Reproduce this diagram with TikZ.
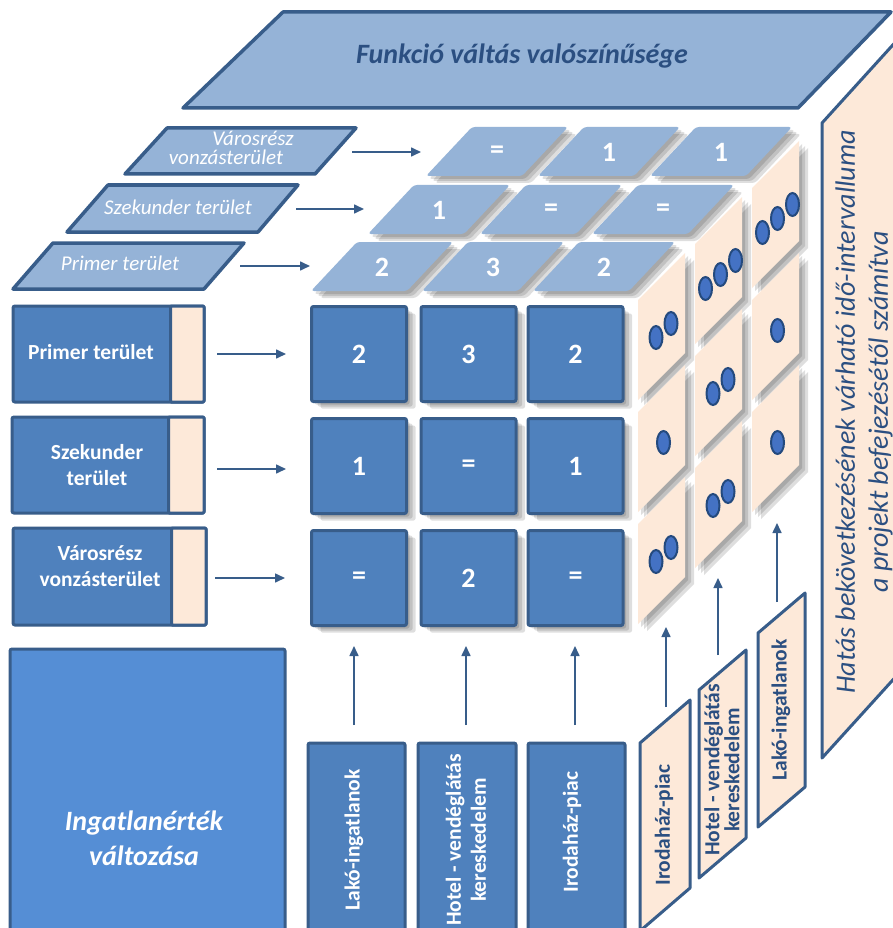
\documentclass[tikz,border=0pt]{standalone}
\usepackage{fontspec}
\setmainfont{Carlito}
\usetikzlibrary{arrows.meta}
\definecolor{topblue}{HTML}{95B3D7}
\definecolor{edgeblue}{HTML}{385D8A}
\definecolor{boxblue}{HTML}{4F81BD}
\definecolor{bigblue}{HTML}{558ED5}
\definecolor{peach}{HTML}{FDE9D9}
\definecolor{txtblue}{HTML}{2B4F81}
\definecolor{dotfill}{HTML}{4472C4}
\definecolor{dotedge}{HTML}{244A7E}
\tikzset{
  shadowed/.style={
    preaction={draw=none,fill=black,opacity=.13,transform canvas={shift={(3pt,-3pt)}}},
    preaction={draw=none,fill=black,opacity=.13,transform canvas={shift={(6pt,-5pt)}}},
    preaction={draw=none,fill=black,opacity=.13,transform canvas={shift={(9pt,-7pt)}}}},
  arr/.style={draw=edgeblue,line width=1.6pt,-{Triangle[length=10pt,width=9pt]}},
  banner/.style={fill=topblue,draw=edgeblue,line width=3.5pt,line join=round},
  lpar/.style={fill=topblue,draw=edgeblue,line width=3.5pt,line join=round},
  rpar/.style={fill=peach,draw=edgeblue,line width=3pt,line join=round},
  boxs/.style={fill=boxblue,draw=edgeblue,line width=3pt,rounded corners=2pt},
  strip/.style={fill=peach,draw=edgeblue,line width=3pt,rounded corners=1pt},
  bigbox/.style={fill=bigblue,draw=edgeblue,line width=3pt,rounded corners=2pt},
  sq/.style={shadowed,draw=edgeblue,line width=3pt,fill=boxblue,rounded corners=2pt,
    minimum width=95pt,minimum height=95pt,inner sep=0pt,text=white,
    font=\bfseries\fontsize{28}{30}\selectfont},
  celltxt/.style={text=white,inner sep=0pt,font=\bfseries\fontsize{28}{30}\selectfont},
  bannertxt/.style={text=txtblue,inner sep=0pt,font=\bfseries\itshape\fontsize{28}{32}\selectfont},
  bigtxt/.style={text=txtblue,inner sep=0pt,align=center,font=\itshape\fontsize{28}{33}\selectfont},
  ltxt/.style={text=white,inner sep=0pt,align=center,font=\itshape\fontsize{21}{19}\selectfont},
  lab/.style={text=white,inner sep=0pt,align=center,font=\bfseries\fontsize{21.5}{26}\selectfont},
  ingtxt/.style={text=white,inner sep=0pt,align=center,font=\bfseries\itshape\fontsize{28}{35}\selectfont},
  blab/.style={text=white,inner sep=0pt,align=center,font=\bfseries\fontsize{21.5}{25}\selectfont},
  slab/.style={text=txtblue,inner sep=0pt,align=center,font=\bfseries\fontsize{21.5}{20}\selectfont},
  dot/.style={fill=dotfill,draw=dotedge,line width=2pt}
}
\newcommand\topcell[4]{% name, bottom-left x, top y, text
  \fill[topblue,shadowed,rounded corners=3pt] ({#2},{#3+49}) -- ({#2+46},{#3}) -- ({#2+142},{#3}) -- ({#2+96},{#3+49}) -- cycle;
  \node[celltxt] (#1) at ({#2+71},{#3+25}) {#4};}
\newcommand\rpanel[4]{% name, column, row, dots
  \pgfmathsetmacro\panx{638+57*#2}%
  \pgfmathsetmacro\pany{300-56*#2+112*#3}%
  \fill[peach,shadowed] (\panx,\pany) -- ++(47,-47) -- ++(0,100) -- ++(-47,47) -- cycle;
  \coordinate (#1) at ({\panx+23.5},{\pany+26.5});
  \foreach \k in {1,...,#4}{%
    \pgfmathsetmacro\dotoff{\k-(#4+1)/2}%
    \draw[dot] ({\panx+25.5+15*\dotoff},{\pany+30.5-14*\dotoff}) ellipse [x radius=6.5, y radius=11.5];
  }}
\begin{document}
\begin{tikzpicture}[x=1pt,y=-1pt]
\useasboundingbox (0,0) rectangle (893,928);
\clip (0,0) rectangle (893,928);
\fill[white] (0,0) rectangle (893,928);

% banner
\draw[banner] (283,12) -- (891,12) -- (798,108) -- (183,108) -- cycle;
\node[bannertxt] (fv) at (522,56) {Funkció váltás valószínűsége};

% right big box
\draw[rpar] (822,123) -- (920,15) -- (920,650) -- (822,758) -- cycle;
\node[bigtxt,rotate=90] (hatas) at (864,412) {Hatás bekövetkezésének várható idő-intervalluma\\a projekt befejezésétől számítva};

% left parallelograms
\draw[lpar] (167,128) -- (356,128) -- (315,174) -- (125,174) -- cycle;
\node[ltxt] (pv) at (226,148) {\hspace*{54pt}Városrész\\vonzásterület};
\draw[lpar] (108,185) -- (298,185) -- (258,232) -- (67,232) -- cycle;
\node[ltxt] (ps) at (178,207) {Szekunder terület};
\draw[lpar] (53,243) -- (244,243) -- (204,289) -- (13,289) -- cycle;
\node[ltxt] (pp) at (120,263) {Primer terület};

\coordinate (a1s) at (352,152); \coordinate (a1e) at (421,152);
\coordinate (a2s) at (296,209); \coordinate (a2e) at (364,209);
\coordinate (a3s) at (240,266); \coordinate (a3e) at (310,266);
\draw[arr] (a1s) -- (a1e);
\draw[arr] (a2s) -- (a2e);
\draw[arr] (a3s) -- (a3e);

% top face cells
\topcell{t00}{426}{127}{=}
\topcell{t01}{538}{127}{1}
\topcell{t02}{650}{127}{1}
\topcell{t10}{368}{185}{1}
\topcell{t11}{480}{185}{=}
\topcell{t12}{592}{185}{=}
\topcell{t20}{311}{242}{2}
\topcell{t21}{422}{242}{3}
\topcell{t22}{533}{242}{2}

% front squares
\node[sq] (f00) at (359,354) {2};
\node[sq] (f01) at (468.5,354) {3};
\node[sq] (f02) at (575.5,354) {2};
\node[sq] (f10) at (359,466) {1};
\node[sq] (f11) at (468.5,466) {=};
\node[sq] (f12) at (575.5,466) {1};
\node[sq] (f20) at (359,578) {=};
\node[sq] (f21) at (468.5,578) {2};
\node[sq] (f22) at (575.5,578) {=};

% right face panels
\rpanel{r20}{2}{0}{3}
\rpanel{r21}{2}{1}{1}
\rpanel{r22}{2}{2}{1}
\rpanel{r10}{1}{0}{3}
\rpanel{r11}{1}{1}{2}
\rpanel{r12}{1}{2}{2}
\rpanel{r00}{0}{0}{2}
\rpanel{r01}{0}{1}{1}
\rpanel{r02}{0}{2}{2}

% left boxes
\draw[boxs] (13,306) rectangle (204,402);
\draw[strip] (170.5,306) rectangle (204,402);
\node[lab] (lb1) at (91,352) {Primer terület};
\draw[boxs] (12,417) rectangle (204,513);
\draw[strip] (168.5,417) rectangle (204,513);
\node[lab] (lb2) at (97,465) {Szekunder\\terület};
\draw[boxs] (13,528) rectangle (206,625);
\draw[strip] (171.5,528) rectangle (206,625);
\node[lab] (lb3) at (100,566) {Városrész\\vonzásterület};

\coordinate (b1s) at (217,354); \coordinate (b1e) at (286,354);
\coordinate (b2s) at (217,469); \coordinate (b2e) at (286,469);
\coordinate (b3s) at (215,578); \coordinate (b3e) at (285,578);
\draw[arr] (b1s) -- (b1e);
\draw[arr] (b2s) -- (b2e);
\draw[arr] (b3s) -- (b3e);

% big box
\draw[bigbox] (10,649) rectangle (285,940);
\node[ingtxt] (ing) at (144,838) {Ingatlanérték\\változása};

% bottom boxes
\draw[boxs] (308,743) rectangle (405,940);
\node[blab,rotate=90] (bl1) at (354,840) {Lakó-ingatlanok};
\draw[boxs] (418,743) rectangle (516,940);
\node[blab,rotate=90] (bl2) at (466,840) {Hotel - vendéglátás\\kereskedelem};
\draw[boxs] (528,743) rectangle (625,940);
\node[blab,rotate=90] (bl3) at (572,832) {Irodaház-piac};

\coordinate (c1s) at (354,725); \coordinate (c1e) at (354,646);
\coordinate (c2s) at (466,725); \coordinate (c2e) at (466,646);
\coordinate (c3s) at (575,725); \coordinate (c3e) at (575,646);
\draw[arr] (c1s) -- (c1e);
\draw[arr] (c2s) -- (c2e);
\draw[arr] (c3s) -- (c3e);

% slanted right boxes
\draw[rpar] (640,743) -- (690,700) -- (690,888) -- (640,931) -- cycle;
\node[slab,rotate=90] (sl1) at (664,825) {Irodaház-piac};
\draw[rpar] (699,690) -- (746,650) -- (746,838) -- (699,878) -- cycle;
\node[slab,rotate=90] (sl2) at (722,770) {Hotel - vendéglátás\\kereskedelem};
\draw[rpar] (758,633) -- (805,593) -- (805,787) -- (758,827) -- cycle;
\node[slab,rotate=90] (sl3) at (781,710) {Lakó-ingatlanok};

\coordinate (d1s) at (666,707); \coordinate (d1e) at (666,627);
\coordinate (d2s) at (718,655); \coordinate (d2e) at (718,578);
\coordinate (d3s) at (777,602); \coordinate (d3e) at (777,523);
\draw[arr] (d1s) -- (d1e);
\draw[arr] (d2s) -- (d2e);
\draw[arr] (d3s) -- (d3e);
\end{tikzpicture}
\end{document}
